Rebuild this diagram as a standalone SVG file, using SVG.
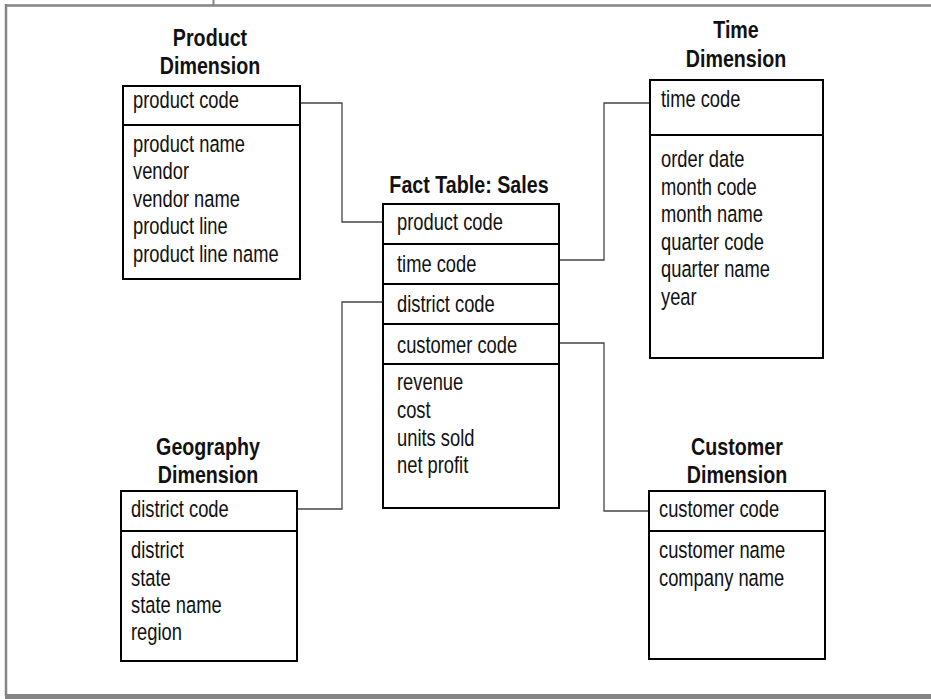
<svg xmlns="http://www.w3.org/2000/svg" width="931" height="699" viewBox="0 0 931 699">
<style>
.frame{stroke:#858585;fill:none}
.box{fill:#fff;stroke:#000;stroke-width:2}
.div{stroke:#000;stroke-width:2}
.conn{fill:none;stroke:#444;stroke-width:1.3}
.t{font-family:'Liberation Sans',Arial,sans-serif;font-size:23.5px;fill:#111}
.h{font-family:'Liberation Sans',Arial,sans-serif;font-size:24px;font-weight:bold;fill:#111;text-anchor:middle}
</style>
<rect width="931" height="699" fill="#fff"/>
<g id="frame">
<line class="frame" x1="5" y1="5.5" x2="931" y2="5.5" stroke-width="2.5"/>
<line class="frame" x1="6" y1="4" x2="6" y2="696" stroke-width="2.5"/>
<line class="frame" x1="213.5" y1="0" x2="213.5" y2="6" stroke-width="2"/>
<rect x="5" y="694" width="926" height="5" fill="#858585"/>
</g>
<g id="connectors">
<polyline class="conn" points="300,103 342,103 342,222 383,222"/>
<polyline class="conn" points="559,260 604,260 604,103 650,103"/>
<polyline class="conn" points="383,302 342,302 342,509 297,509"/>
<polyline class="conn" points="559,343 604,343 604,511 649,511"/>
</g>
<g id="product">
<text class="h" transform="translate(210,46) scale(0.82,1)">Product</text>
<text class="h" transform="translate(210,74) scale(0.82,1)">Dimension</text>
<rect class="box" x="123" y="86" width="177" height="193"/>
<line class="div" x1="123" y1="125" x2="300" y2="125"/>
<text class="t" transform="translate(133,108) scale(0.78,1)">product code</text>
<text class="t" transform="translate(133,151.5) scale(0.78,1)">product name</text>
<text class="t" transform="translate(133,179) scale(0.78,1)">vendor</text>
<text class="t" transform="translate(133,206.5) scale(0.78,1)">vendor name</text>
<text class="t" transform="translate(133,234) scale(0.78,1)">product line</text>
<text class="t" transform="translate(133,261.5) scale(0.78,1)">product line name</text>
</g>
<g id="time">
<text class="h" transform="translate(736,38) scale(0.82,1)">Time</text>
<text class="h" transform="translate(736,66.5) scale(0.82,1)">Dimension</text>
<rect class="box" x="650" y="80" width="173" height="278"/>
<line class="div" x1="650" y1="135" x2="823" y2="135"/>
<text class="t" transform="translate(661,106.5) scale(0.78,1)">time code</text>
<text class="t" transform="translate(661,167) scale(0.78,1)">order date</text>
<text class="t" transform="translate(661,194.5) scale(0.78,1)">month code</text>
<text class="t" transform="translate(661,222) scale(0.78,1)">month name</text>
<text class="t" transform="translate(661,249.5) scale(0.78,1)">quarter code</text>
<text class="t" transform="translate(661,277) scale(0.78,1)">quarter name</text>
<text class="t" transform="translate(661,304.5) scale(0.78,1)">year</text>
</g>
<g id="fact">
<text class="h" transform="translate(469,193) scale(0.82,1)">Fact Table: Sales</text>
<rect class="box" x="383" y="204" width="176" height="304"/>
<line class="div" x1="383" y1="244" x2="559" y2="244"/>
<line class="div" x1="383" y1="284" x2="559" y2="284"/>
<line class="div" x1="383" y1="324" x2="559" y2="324"/>
<line class="div" x1="383" y1="364" x2="559" y2="364"/>
<text class="t" transform="translate(397,230) scale(0.78,1)">product code</text>
<text class="t" transform="translate(397,271.5) scale(0.78,1)">time code</text>
<text class="t" transform="translate(397,312) scale(0.78,1)">district code</text>
<text class="t" transform="translate(397,352.5) scale(0.78,1)">customer code</text>
<text class="t" transform="translate(397,390) scale(0.78,1)">revenue</text>
<text class="t" transform="translate(397,417.5) scale(0.78,1)">cost</text>
<text class="t" transform="translate(397,445.5) scale(0.78,1)">units sold</text>
<text class="t" transform="translate(397,473) scale(0.78,1)">net profit</text>
</g>
<g id="geography">
<text class="h" transform="translate(208,455) scale(0.82,1)">Geography</text>
<text class="h" transform="translate(208,483) scale(0.82,1)">Dimension</text>
<rect class="box" x="121" y="491" width="176" height="170"/>
<line class="div" x1="121" y1="531" x2="297" y2="531"/>
<text class="t" transform="translate(131,516.5) scale(0.78,1)">district code</text>
<text class="t" transform="translate(131,557.5) scale(0.78,1)">district</text>
<text class="t" transform="translate(131,585.5) scale(0.78,1)">state</text>
<text class="t" transform="translate(131,613) scale(0.78,1)">state name</text>
<text class="t" transform="translate(131,640) scale(0.78,1)">region</text>
</g>
<g id="customer">
<text class="h" transform="translate(737,455) scale(0.82,1)">Customer</text>
<text class="h" transform="translate(737,483) scale(0.82,1)">Dimension</text>
<rect class="box" x="649" y="491" width="176" height="168"/>
<line class="div" x1="649" y1="531" x2="825" y2="531"/>
<text class="t" transform="translate(659,516.5) scale(0.78,1)">customer code</text>
<text class="t" transform="translate(659,558) scale(0.78,1)">customer name</text>
<text class="t" transform="translate(659,585.5) scale(0.78,1)">company name</text>
</g>
</svg>
